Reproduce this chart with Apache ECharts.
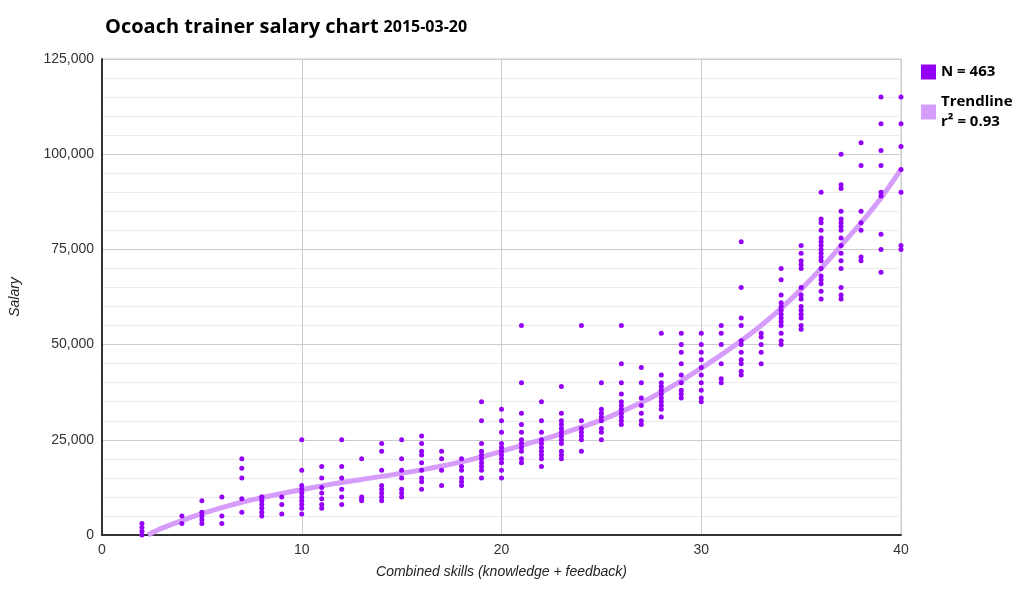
<!DOCTYPE html><html><head><meta charset="utf-8">
<script src="https://cdn.jsdelivr.net/npm/echarts@6/dist/echarts.min.js"></script>
<style>body{margin:0}#c{width:1020px;height:594px}</style></head><body><div id="c"></div><script>
const skills=[2,4,5,6,7,8,9,10,11,12,13,14,15,16,17,18,19,20,21,22,23,24,25,26,27,28,29,30,31,32,33,34,35,36,37,38,39,40];
const salaries=[
[0,1,2,3],[3,5],[3,4,5,6,9],[3,5,10],[6,9.5,15,17.5,20],[5,6,7,8,9,10,10],[5.5,8,10],
[5.5,7,8,9,10,11,12,13,17,25],[7,8,9.5,11,12.5,15,18],[8,10,12,15,18,25],[9,9.5,10,20],
[9,10,11,12,13,17,22,24],[10,11,12,15,17,20,25],[12,14,15,17,19,21,22,24,26],[13,17,20,22],
[13,14,15,17,18,20],[15,17,18,19,20,21,22,24,30,35],[15,17,19,20,21,22,23,24,27,30,33],
[19,20,22,23,24,25,27,29,32,40,55],[18,20,21,22,23,24,25,27,30,35],[20,21,22,24,25,26,27,28,29,30,32,39],
[22,25,26,27,28,30,55],[25,27,28,30,31,32,33,40],[29,30,31,32,33,34,35,37,40,45,55],[29,30,32,34,36,40,44],
[31,33,34,35,36,37,38,39,40,42,53],[36,37,38,40,42,45,48,50,53],[35,36,38,40,42,44,46,48,50,53],
[40,41,45,50,53,55],[42,43,45,46,48,50,51,55,57,65,77],[45,48,50,52,53],
[50,51,53,55,56,57,58,59,60,61,63,67,70],[54,55,57,58,59,60,62,63,65,70,71,72,74,76],
[62,64,66,67,68,70,72,73,74,75,76,77,78,80,82,83,90],[62,63,65,70,72,74,76,78,80,81,82,83,85,91,92,100],
[72,73,80,82,85,97,103],[69,75,79,89,90,97,101,108,115],[75,76,90,96,102,108,115]];
const trendX=[2.3,3,4,5,6,7,8,9,10,11,12,13,14,15,16,17,18,19,20,21,22,23,24,25,26,27,28,29,30,31,32,33,34,35,36,37,38,39,40];
const trendY=[0,1.8,3.8,5.6,7.2,8.6,9.8,10.9,11.9,12.9,13.8,14.6,15.4,16.2,17.1,18.1,19.2,20.5,22,23.5,25,26.6,28.3,30.2,32.4,34.8,37.5,40.5,43.8,47.3,51,55,59.5,64.5,70,76,82,88.5,96];
const pts=[];skills.forEach((s,i)=>salaries[i].forEach(v=>pts.push([s,v*1000])));
const trend=trendX.map((x,i)=>[x,trendY[i]*1000]);
const F='"Open Sans", sans-serif';
const ch=echarts.init(document.getElementById('c'));
ch.setOption({animation:false,
title:{text:'{a|Ocoach trainer salary chart} {b|2015-03-20}',left:100,top:12,textStyle:{rich:{a:{fontFamily:F,fontWeight:'bold',fontSize:20,color:'#000'},b:{fontFamily:F,fontSize:16,color:'#000'}}}},
legend:{orient:'vertical',left:916,top:57,itemWidth:15,itemHeight:15,itemGap:10,icon:'rect',
 textStyle:{fontFamily:F,fontSize:15,fontWeight:'bold',color:'#000',lineHeight:20},data:['N = 463','Trendline\nr² = 0.93']},
grid:{left:100,right:119,top:59,bottom:59,show:true,borderColor:'#ccc',borderWidth:1},
xAxis:{type:'value',min:0,max:40,interval:10,name:'Combined skills (knowledge + feedback)',nameLocation:'middle',nameGap:30,
 nameTextStyle:{fontStyle:'italic',fontSize:14,color:'#222',fontFamily:'Arial'},
 axisLine:{lineStyle:{color:'#333',width:2}},axisTick:{show:false},axisLabel:{fontSize:14,color:'#333',fontFamily:'Arial'},
 splitLine:{lineStyle:{color:'#ccc'}}},
yAxis:{type:'value',min:0,max:125000,interval:25000,name:'Salary',nameLocation:'middle',nameGap:80,
 nameTextStyle:{fontStyle:'italic',fontSize:14,color:'#222',fontFamily:'Arial'},
 axisLine:{show:true,lineStyle:{color:'#333',width:2}},axisTick:{show:false},
 axisLabel:{fontSize:14,color:'#333',fontFamily:'Arial',formatter:v=>v.toLocaleString('en-US')},
 splitLine:{lineStyle:{color:'#ccc'}},minorTick:{show:false,splitNumber:5},minorSplitLine:{show:true,lineStyle:{color:'#ebebeb'}}},
series:[
{name:'Trendline\nr² = 0.93',type:'line',data:trend,smooth:0.3,showSymbol:false,lineStyle:{color:'#d59cf9',width:5},itemStyle:{color:'#d59cf9'},z:1},
{name:'N = 463',type:'scatter',data:pts,symbolSize:5,itemStyle:{color:'#9400f7',opacity:1},z:2}]});
</script></body></html>
